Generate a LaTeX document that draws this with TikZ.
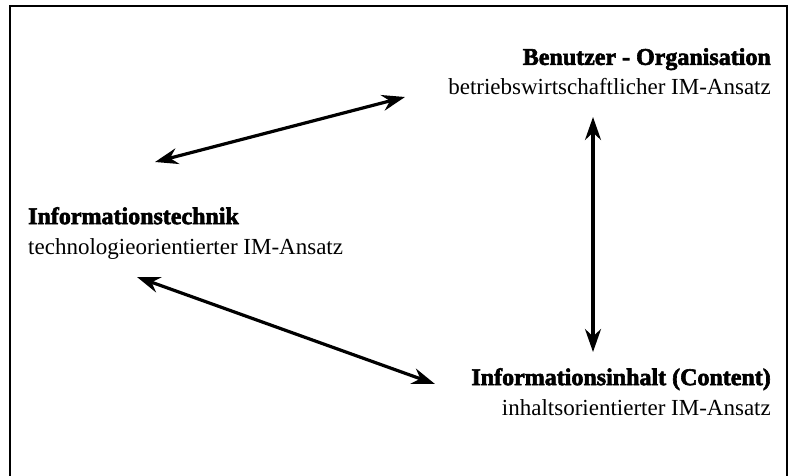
\documentclass[tikz,border=0pt]{standalone}
\usepackage{fontspec}
\setmainfont{Liberation Serif}[BoldFeatures={FakeBold=2.5}]
\usetikzlibrary{arrows.meta}
\newcommand{\titel}[1]{{\fontsize{24}{30}\selectfont\bfseries #1}}
\begin{document}
\begin{tikzpicture}[x=1pt,y=-1pt,
        feld/.style={inner sep=0pt, font=\fontsize{23}{30}\selectfont},
        pfeil/.style={{Stealth[length=23pt,width=16pt]}-{Stealth[length=23pt,width=16pt]}, line width=3.2pt}]
        \useasboundingbox (0,0) rectangle (791,475);
        \draw[line width=2.6pt] (10,480) |- (787,6) -- (787,480);
        \node[feld, anchor=north east, align=right] (orga) at (771,48)
            {\titel{Benutzer - Organisation}\\betriebswirtschaftlicher IM-Ansatz};
        \node[feld, anchor=north west, align=left] (technik) at (28,207)
            {\titel{Informationstechnik}\\technologieorientierter IM-Ansatz};
        \node[feld, anchor=north east, align=right] (inhalt) at (771,368)
            {\titel{Informationsinhalt (Content)}\\inhaltsorientierter IM-Ansatz};
        \coordinate (t1) at (155,162);
        \coordinate (o1) at (405,97);
        \coordinate (o2) at (593,117);
        \coordinate (i1) at (593,352);
        \coordinate (t2) at (137,277);
        \coordinate (i2) at (435,384);
        \draw[pfeil] (t1) -- (o1);
        \draw[pfeil] (o2) -- (i1);
        \draw[pfeil] (t2) -- (i2);
\end{tikzpicture}
\end{document}
